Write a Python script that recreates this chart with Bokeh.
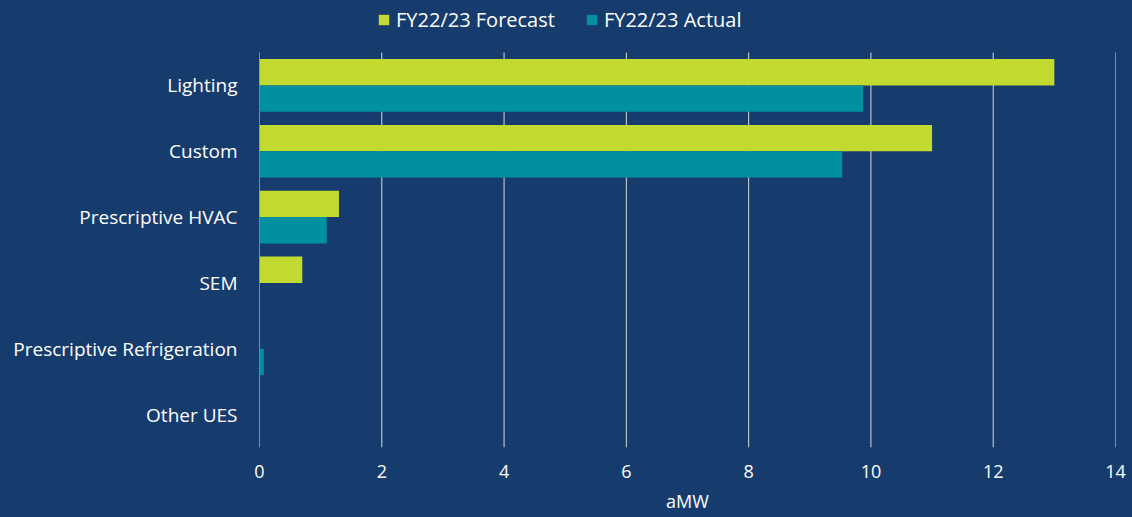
from bokeh.plotting import figure
from bokeh.models import ColumnDataSource, Legend, LegendItem, FixedTicker, Range1d
from bokeh.embed import file_html
from bokeh.resources import INLINE

categories = ["Lighting", "Custom", "Prescriptive HVAC", "SEM",
              "Prescriptive Refrigeration", "Other UES"]
forecast = [13.0, 11.0, 1.3, 0.7, 0.0, 0.0]
actual = [9.87, 9.53, 1.1, 0.0, 0.07, 0.0]
x_ticks = [0, 2, 4, 6, 8, 10, 12, 14]

BG = "#163c6e"
C_FC = "#c2d92f"
C_AC = "#0090a0"
GRID = "#d9d9d9"
FONT = "Open Sans"

n = len(categories)
ypos = [n - i - 0.5 for i in range(n)]
src = ColumnDataSource(dict(
    y_fc=[y + 0.2 for y in ypos], y_ac=[y - 0.2 for y in ypos],
    fc=forecast, ac=actual))

p = figure(width=1132, height=517, x_range=Range1d(0, 14),
           y_range=Range1d(0, n * 447 / 395),
           output_backend="svg", toolbar_location=None,
           min_border_left=259, min_border_right=17, min_border_top=0,
           min_border_bottom=70)
p.background_fill_color = BG
p.border_fill_color = BG
p.outline_line_color = None

# vertical gridlines limited to the category area
p.segment(x0=x_ticks, x1=x_ticks, y0=[0] * len(x_ticks), y1=[n] * len(x_ticks),
          line_color=GRID, line_width=1)

r1 = p.hbar(y="y_fc", right="fc", left=0, height=0.4, source=src,
            fill_color=C_FC, line_color=None)
r2 = p.hbar(y="y_ac", right="ac", left=0, height=0.4, source=src,
            fill_color=C_AC, line_color=None)

p.xgrid.grid_line_color = None
p.ygrid.grid_line_color = None

p.xaxis.ticker = FixedTicker(ticks=x_ticks)
p.xaxis.axis_label = "aMW"
p.xaxis.axis_line_color = None
p.xaxis.major_tick_line_color = None
p.xaxis.minor_tick_line_color = None
p.xaxis.major_label_text_color = "white"
p.xaxis.major_label_text_font = FONT
p.xaxis.major_label_text_font_size = "18px"
p.xaxis.major_label_standoff = 11
p.xaxis.axis_label_text_color = "white"
p.xaxis.axis_label_text_font = FONT
p.xaxis.axis_label_text_font_size = "18px"
p.xaxis.axis_label_text_font_style = "normal"
p.xaxis.axis_label_standoff = 8

p.yaxis.ticker = FixedTicker(ticks=ypos)
p.yaxis.major_label_overrides = {y: c for y, c in zip(ypos, categories)}
p.yaxis.axis_line_color = None
p.yaxis.major_tick_line_color = None
p.yaxis.minor_tick_line_color = None
p.yaxis.major_label_text_color = "white"
p.yaxis.major_label_text_font = FONT
p.yaxis.major_label_text_font_size = "19px"
p.yaxis.major_label_standoff = 16

legend = Legend(items=[LegendItem(label="FY22/23 Forecast", renderers=[r1]),
                       LegendItem(label="FY22/23 Actual", renderers=[r2])],
                orientation="horizontal", location=(118, 414))
legend.background_fill_alpha = 0
legend.border_line_color = None
legend.label_text_color = "white"
legend.label_text_font = FONT
legend.label_text_font_size = "20px"
legend.glyph_width = 13
legend.glyph_height = 13
legend.label_standoff = 6
legend.spacing = 30
legend.margin = 0
legend.padding = 4
p.add_layout(legend)

html = file_html(p, INLINE)
html = html.replace("</head>", "<style>html,body{background:%s;}</style></head>" % BG, 1)
open("out.html", "w").write(html)
